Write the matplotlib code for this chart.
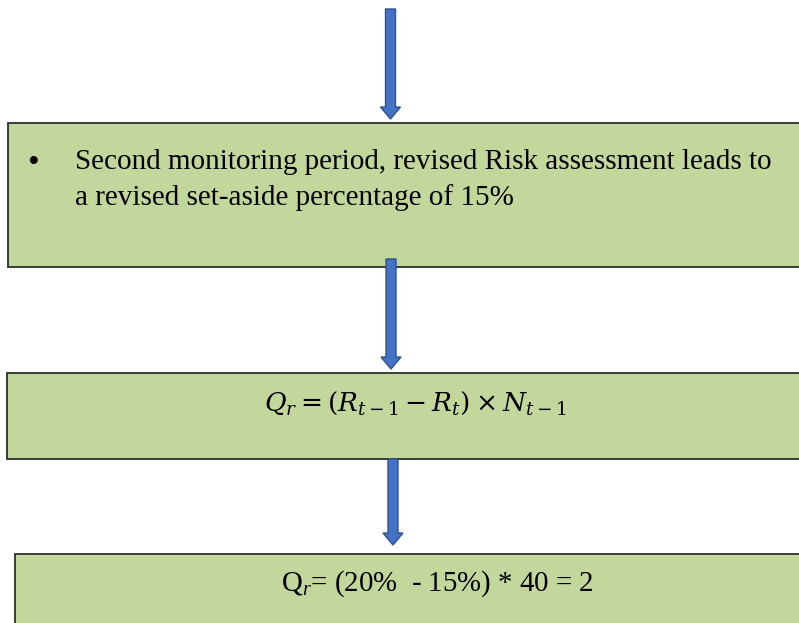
import matplotlib
matplotlib.use("Agg")
import matplotlib.pyplot as plt
from matplotlib.patches import Rectangle, FancyArrow

plt.rcParams['mathtext.fontset'] = 'custom'
plt.rcParams['mathtext.rm'] = 'Liberation Serif'
plt.rcParams['mathtext.it'] = 'Liberation Serif:italic'

W, H = 799, 623

# Flow-chart content
box_lefts = [8, 7, 15]
box_tops = [123, 373, 554]
box_bottoms = [267, 459, 640]
box_texts_line1 = "Second monitoring period, revised Risk assessment leads to"
box_texts_line2 = "a revised set-aside percentage of 15%"
formula_text = r"$Q_r = (R_{t-1} - R_t) \times N_{t-1}$"
result_text = r"Q$_{\mathit{r}}$= (20%  - 15%) * 40 = 2"

arrow_tops = [9, 259, 459]
arrow_tips = [119, 369, 545]
arrow_x = [390.5, 391, 393]

fill = "#C3D69B"
edge = "#2E2E2E"
arrow_fill = "#4472C4"
arrow_edge = "#2F528F"

fig = plt.figure(figsize=(W / 100, H / 100), dpi=100)
ax = fig.add_axes([0, 0, 1, 1])
ax.set_xlim(0, W)
ax.set_ylim(H, 0)
ax.axis("off")

for l, t, b in zip(box_lefts, box_tops, box_bottoms):
    ax.add_patch(Rectangle((l, t), W + 20 - l, b - t, facecolor=fill,
                           edgecolor=edge, linewidth=1.3, zorder=1))

for x, t, tip in zip(arrow_x, arrow_tops, arrow_tips):
    ax.add_patch(FancyArrow(x, t, 0, tip - t, width=10, head_width=20,
                            head_length=12, length_includes_head=True,
                            facecolor=arrow_fill, edgecolor=arrow_edge,
                            linewidth=1.0, zorder=3))

serif = "Liberation Serif"
ax.text(33, 172, "\u2022", fontsize=24, family=serif, ha="center", va="baseline", zorder=4)
ax.text(75, 169, box_texts_line1, fontsize=21, family=serif, ha="left", va="baseline", zorder=4)
ax.text(75, 205, box_texts_line2, fontsize=21, family=serif, ha="left", va="baseline", zorder=4)

ax.text(415, 411, formula_text, fontsize=19, ha="center", va="baseline",
        math_fontfamily="dejavuserif", zorder=4)
ax.text(437.5, 591, result_text, fontsize=20.8, family=serif, ha="center",
        va="baseline", zorder=4)

fig.savefig("out.png", dpi=100)
